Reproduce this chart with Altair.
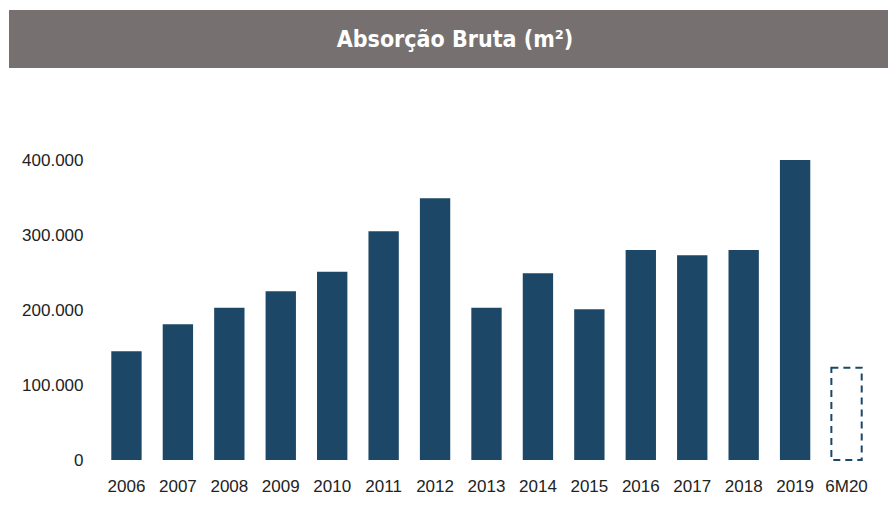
import altair as alt
import pandas as pd

years = ["2006", "2007", "2008", "2009", "2010", "2011", "2012", "2013",
         "2014", "2015", "2016", "2017", "2018", "2019", "6M20"]
values = [145000, 181000, 203000, 225000, 251000, 305000, 349000, 203000,
          249000, 201000, 280000, 273000, 280000, 400000, 123000]
partial = [False] * 14 + [True]

df = pd.DataFrame({"ano": years, "valor": values, "parcial": partial})

TITLE = "Absorção Bruta (m²)"
BAR_COLOR = "#1c4766"

W, H = 771, 300

x_enc = alt.X("ano:N", sort=years,
              scale=alt.Scale(paddingInner=0.41, paddingOuter=0.2),
              axis=alt.Axis(title=None, labelAngle=0, ticks=False, domain=False,
                            labelFont="Liberation Sans", labelFontSize=17,
                            labelColor="#222222", labelPadding=18))
y_enc = alt.Y("valor:Q", scale=alt.Scale(domain=[0, 400000], nice=False),
              axis=alt.Axis(title=None, grid=False, ticks=False, domain=False,
                            values=[0, 100000, 200000, 300000, 400000],
                            labelExpr="replace(format(datum.value, ','), /,/g, '.')",
                            labelFont="Liberation Sans", labelFontSize=17,
                            labelColor="#222222", labelPadding=18))

base = alt.Chart(df)

bars = base.transform_filter("!datum.parcial").mark_bar(color=BAR_COLOR).encode(
    x=x_enc, y=y_enc)

dashed = base.transform_filter("datum.parcial").mark_bar(
    fill="white", stroke=BAR_COLOR, strokeWidth=2, strokeDash=[7, 5]).encode(
    x=x_enc, y=y_enc)

header_df = pd.DataFrame({"t": [TITLE]})
header_rect = alt.Chart(header_df).mark_rect(color="#767170").encode(
    x=alt.value(-92), x2=alt.value(W + 16), y=alt.value(-150), y2=alt.value(-92))
header_text = alt.Chart(header_df).mark_text(
    color="white", font="DejaVu Sans Condensed",
    fontWeight="bold", fontSize=23,
    align="center", baseline="middle").encode(
    x=alt.value(354), y=alt.value(-120), text="t:N")

chart = alt.layer(header_rect, header_text, bars, dashed).properties(
    width=W, height=H,
    padding={"left": 93, "top": 152, "right": 16, "bottom": 45},
    autosize=alt.AutoSizeParams(type="none"),
).configure_view(stroke=None)

chart.save("out.html", embed_options={"renderer": "svg", "actions": False})
